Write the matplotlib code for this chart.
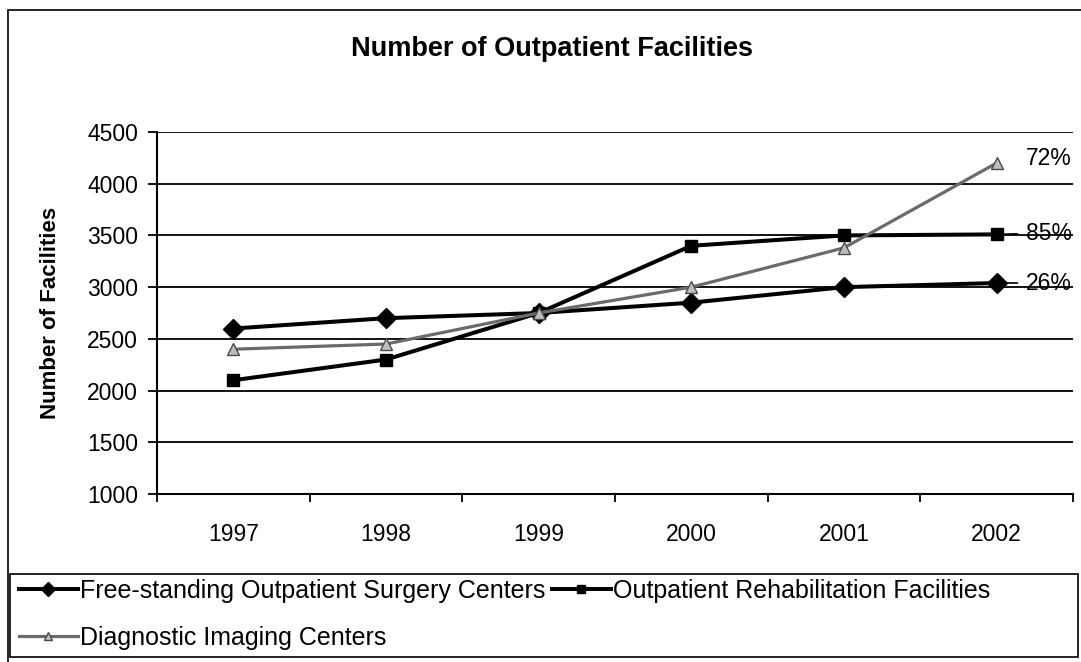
import matplotlib
matplotlib.use("Agg")
import matplotlib.pyplot as plt
from matplotlib.patches import Rectangle
from matplotlib.ticker import FixedLocator

# ------------------------------------------------------------------
# Dados
# ------------------------------------------------------------------
anos = ["1997", "1998", "1999", "2000", "2001", "2002"]
cirurgia = [2600, 2700, 2750, 2850, 3000, 3040]
reabilitacao = [2100, 2300, 2750, 3400, 3500, 3510]
imagem = [2400, 2450, 2750, 3000, 3380, 4200]
rotulos_finais = ["26%", "85%", "72%"]

nome_cirurgia = "Free-standing Outpatient Surgery Centers"
nome_reab = "Outpatient Rehabilitation Facilities"
nome_imagem = "Diagnostic Imaging Centers"

plt.rcParams["font.family"] = ["Liberation Sans", "DejaVu Sans"]

fig = plt.figure(figsize=(10.81, 6.62), dpi=100)
ax = fig.add_axes([157 / 1081, 1 - 494 / 662, (1073 - 157) / 1081, (494 - 132) / 662])

x = list(range(len(anos)))

l1, = ax.plot(x, cirurgia, color="black", lw=2.9, marker="D", ms=10,
              markerfacecolor="black", markeredgecolor="black", zorder=4)
l2, = ax.plot(x, reabilitacao, color="black", lw=2.9, marker="s", ms=8,
              markerfacecolor="black", markeredgecolor="black", zorder=4)
l3, = ax.plot(x, imagem, color="#6a6a6a", lw=2.3, marker="^", ms=8,
              markerfacecolor="#bdbdbd", markeredgecolor="#4a4a4a", zorder=5)

# eixos
ax.set_xlim(-0.5, len(anos) - 0.5)
ax.set_ylim(1000, 4500)
ax.set_yticks(range(1000, 4501, 500))
ax.set_xticks(x)
ax.set_xticklabels(anos)
ax.xaxis.set_minor_locator(FixedLocator([i - 0.5 for i in range(len(anos) + 1)]))
ax.tick_params(axis="x", which="major", length=0, pad=21, labelsize=16.5)
ax.tick_params(axis="x", which="minor", length=6, width=1.3, direction="out")
ax.tick_params(axis="y", length=6.5, width=1.3, direction="out", pad=7, labelsize=16.5)

ax.grid(axis="y", color="black", lw=1.3)
ax.set_axisbelow(True)
for s in ["top", "right"]:
    ax.spines[s].set_visible(False)
for s in ["left", "bottom"]:
    ax.spines[s].set_linewidth(1.5)

ax.set_ylabel("Number of Facilities", fontsize=16, fontweight="bold")
ax.yaxis.set_label_coords((61 - 157) / 916, 0.5)

# rótulos percentuais no fim das séries
ax.annotate(rotulos_finais[0], xy=(x[-1], cirurgia[-1]), xytext=(21, 0),
            textcoords="offset points", va="center", fontsize=16.5,
            arrowprops=dict(arrowstyle="-", lw=1.2, color="black",
                            shrinkA=4, shrinkB=6))
ax.annotate(rotulos_finais[1], xy=(x[-1], reabilitacao[-1]), xytext=(21, 1),
            textcoords="offset points", va="center", fontsize=16.5,
            arrowprops=dict(arrowstyle="-", lw=1.2, color="black",
                            shrinkA=4, shrinkB=5))
ax.annotate(rotulos_finais[2], xy=(x[-1], imagem[-1]), xytext=(21, 3),
            textcoords="offset points", va="center", fontsize=16.5)

# título
fig.text(552 / 1081, 1 - 49 / 662, "Number of Outpatient Facilities",
         ha="center", va="center", fontsize=19.5, fontweight="bold")

# moldura externa e caixa da legenda
fig.add_artist(Rectangle((8 / 1081, -0.05), 1.1, 1 - 10 / 662 + 0.05,
                         transform=fig.transFigure, fill=False,
                         edgecolor="black", lw=1.2))
fig.add_artist(Rectangle((10 / 1081, 5 / 662), 1068 / 1081, 83 / 662,
                         transform=fig.transFigure, fill=False,
                         edgecolor="black", lw=1.2))

leg = fig.legend([l1, l3, l2], [nome_cirurgia, nome_imagem, nome_reab],
                 ncol=2, loc="upper left",
                 bbox_to_anchor=(14 / 1081, 1 - 574 / 662),
                 frameon=False, fontsize=18, handlelength=2.35,
                 handletextpad=0.1, columnspacing=0.25, labelspacing=0.9,
                 borderaxespad=0, borderpad=0.2, markerscale=0.75)

fig.savefig("out.png", dpi=100)
